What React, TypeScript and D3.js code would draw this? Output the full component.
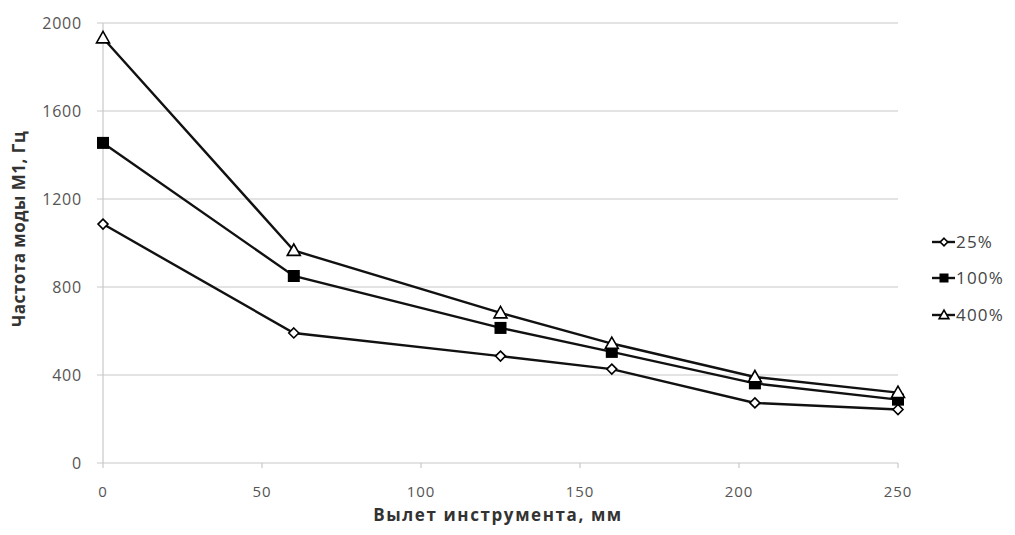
import React from "react";
import * as d3 from "d3";

const xValues = [0, 60, 125, 160, 205, 250];
const series25 = [1086, 591, 486, 427, 273, 243];
const series100 = [1455, 850, 614, 505, 362, 288];
const series400 = [1932, 966, 682, 543, 391, 320];
const seriesNames = ["25%", "100%", "400%"];
const xTicks = [0, 50, 100, 150, 200, 250];
const yTicks = [0, 400, 800, 1200, 1600, 2000];

const W = 1015, H = 535;
const left = 103, right = 898, top = 23, bottom = 463;

export default function App() {
  const x = d3.scaleLinear().domain([0, 250]).range([left, right]);
  const y = d3.scaleLinear().domain([0, 2000]).range([bottom, top]);
  const line = d3.line<number>().x((_, i) => x(xValues[i])).y((d) => y(d));
  const all = [series25, series100, series400];
  const font = "'Open Sans', sans-serif";

  const marker = (kind: number, cx: number, cy: number, key: string, sc = 1) => {
    if (kind === 0) {
      const s = 5 * sc;
      return <path key={key} d={`M${cx},${cy - s}L${cx + s},${cy}L${cx},${cy + s}L${cx - s},${cy}Z`} fill="#fff" stroke="#000" strokeWidth={1.6} />;
    }
    if (kind === 1) {
      const s = 6 * sc;
      return <rect key={key} x={cx - s} y={cy - s} width={2 * s} height={2 * s} fill="#000" />;
    }
    const s = 6.5 * sc;
    return <path key={key} d={`M${cx},${cy - s}L${cx + s},${cy + s * 0.75}L${cx - s},${cy + s * 0.75}Z`} fill="#fff" stroke="#000" strokeWidth={1.6} />;
  };

  return (
    <svg width={W} height={H} style={{ position: "absolute", left: 0, top: 0, background: "#fff" }}>
      {yTicks.map((t) => (
        <g key={"y" + t}>
          <line x1={left - 6} x2={right} y1={y(t)} y2={y(t)} stroke="#c8c8c8" strokeWidth={1.2} />
          <text x={left - 21} y={y(t)} dy="0.35em" textAnchor="end" fontSize={16} letterSpacing={0.8} fill="#555" fontFamily={font}>{t}</text>
        </g>
      ))}
      <line x1={left} x2={left} y1={top} y2={bottom} stroke="#c8c8c8" strokeWidth={1.2} />
      {xTicks.map((t) => (
        <g key={"x" + t}>
          <line x1={x(t)} x2={x(t)} y1={bottom} y2={bottom + 5} stroke="#c8c8c8" strokeWidth={1.2} />
          <text x={x(t)} y={bottom + 34} textAnchor="middle" fontSize={15} letterSpacing={1} fill="#555" fontFamily={font}>{t}</text>
        </g>
      ))}
      {all.map((s, k) => (
        <g key={"s" + k}>
          <path d={line(s) || ""} fill="none" stroke="#111" strokeWidth={2.4} />
          {s.map((v, i) => marker(k, x(xValues[i]), y(v), `m${k}-${i}`))}
        </g>
      ))}
      <text x={498} y={521} textAnchor="middle" fontSize={17} letterSpacing={1.6} fontWeight="bold" fill="#333" fontFamily={font}>Вылет инструмента, мм</text>
      <text transform={`translate(25,229) rotate(-90)`} textAnchor="middle" fontSize={17} letterSpacing={0.5} fontWeight="bold" fill="#333" fontFamily={font}>Частота моды М1, Гц</text>
      {seriesNames.map((n, k) => {
        const ly = [242, 278, 315][k];
        return (
          <g key={"l" + k}>
            <line x1={932} x2={955} y1={ly} y2={ly} stroke="#111" strokeWidth={2.4} />
            {marker(k, 944, ly, "lm" + k, 0.75)}
            <text x={956} y={ly} dy="0.35em" fontSize={17} letterSpacing={1.2} fill="#444" fontFamily={font}>{n}</text>
          </g>
        );
      })}
    </svg>
  );
}
